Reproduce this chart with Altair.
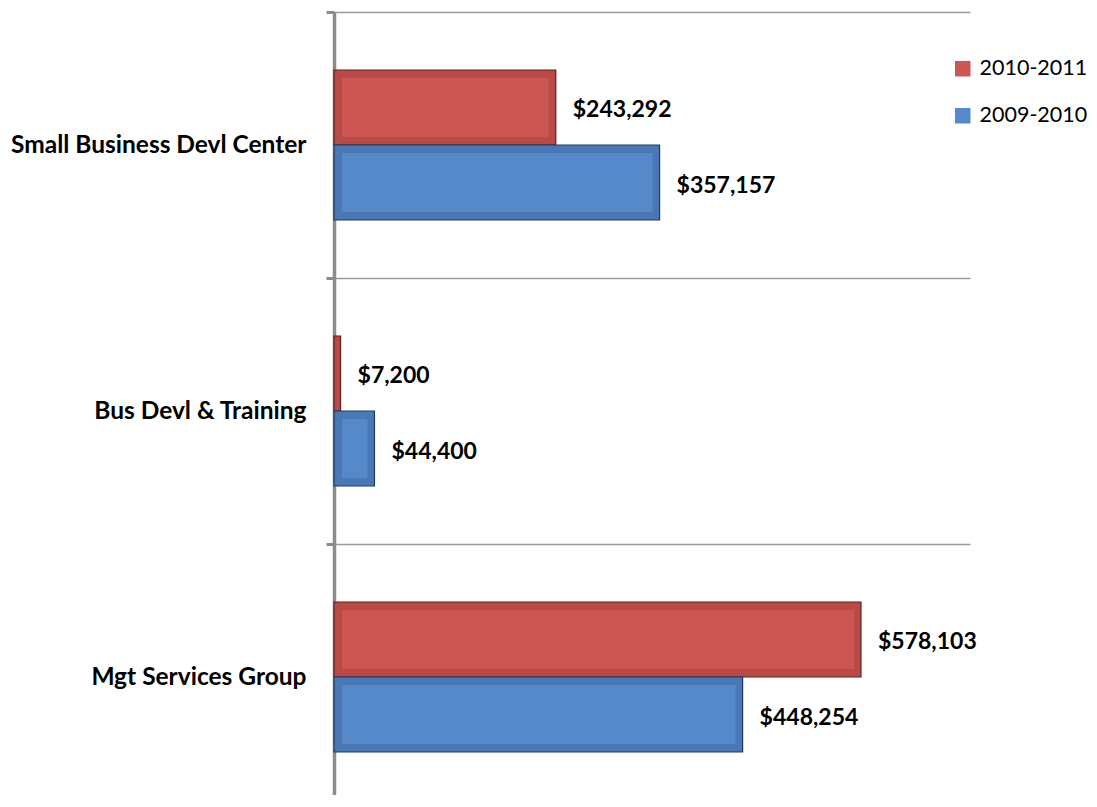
import altair as alt
import pandas as pd

categories = ["Small Business Devl Center", "Bus Devl & Training", "Mgt Services Group"]
series = ["2010-2011", "2009-2010"]
values_2010_2011 = [243292, 7200, 578103]
values_2009_2010 = [357157, 44400, 448254]

fill_colors = ["#CD5653", "#5689CA"]
ring_colors = ["#B84A47", "#4A78B4"]
edge_colors = ["#5E1F1D", "#1F3A60"]

rows = []
for s, vals in zip(series, [values_2010_2011, values_2009_2010]):
    for c, v in zip(categories, vals):
        rows.append({"category": c, "series": s, "value": v, "label": "${:,}".format(v)})
df = pd.DataFrame(rows)

FONT = "Lato"

y_enc = alt.Y("category:N", sort=categories, title=None,
              scale=alt.Scale(paddingInner=0, paddingOuter=0, range=[0, 798]),
              axis=alt.Axis(tickBand="extent", grid=True, gridColor="#9A9A9A", gridWidth=1.5,
                            domainColor="#8C8C8C", domainWidth=3.5, tickColor="#8C8C8C",
                            tickWidth=3, tickSize=8, labelPadding=20, labelFont=FONT,
                            labelFontSize=24.5, labelFontWeight="bold", labelColor="#000000",
                            labelLimit=400))
yoff = alt.YOffset("series:N", sort=series,
                   scale=alt.Scale(paddingOuter=0.773, paddingInner=0))
x_enc = alt.X("value:Q", scale=alt.Scale(domain=[0, 697700]), axis=None)

outer = alt.Chart(df).mark_bar(strokeWidth=1.2).encode(
    y=y_enc, yOffset=yoff, x=x_enc,
    color=alt.Color("series:N", scale=alt.Scale(domain=series, range=ring_colors), legend=None),
    stroke=alt.Stroke("series:N", scale=alt.Scale(domain=series, range=edge_colors), legend=None),
)

inner = alt.Chart(df).transform_filter(alt.datum.value > 20000).mark_bar(
    xOffset=-7, x2Offset=8, height=59
).encode(
    y=y_enc, yOffset=yoff, x=x_enc, x2=alt.X2(datum=0),
    color=alt.Color("series:N", sort=series,
                    scale=alt.Scale(domain=series, range=fill_colors),
                    legend=alt.Legend(title=None, orient="none", legendX=618, legendY=46,
                                      symbolType="square", symbolSize=240,
                                      symbolStrokeWidth=0, labelFont=FONT,
                                      labelFontSize=21.5, labelColor="#000000",
                                      rowPadding=24, labelOffset=6, labelLimit=200)),
)

text = alt.Chart(df).mark_text(align="left", baseline="middle", dx=17, dy=3,
                               font=FONT, fontSize=23, fontWeight="bold",
                               color="#000000").encode(
    y=y_enc, yOffset=yoff, x=x_enc, text="label:N"
)

chart = alt.layer(outer, inner, text).resolve_scale(color="independent", stroke="independent").properties(
    width=636, height=783,
    autosize=alt.AutoSizeParams(type="none"),
    padding={"left": 326, "top": 4, "right": 118, "bottom": 0},
).configure_view(stroke=None)

chart.save("out.html", embed_options={"renderer": "svg", "actions": False})
